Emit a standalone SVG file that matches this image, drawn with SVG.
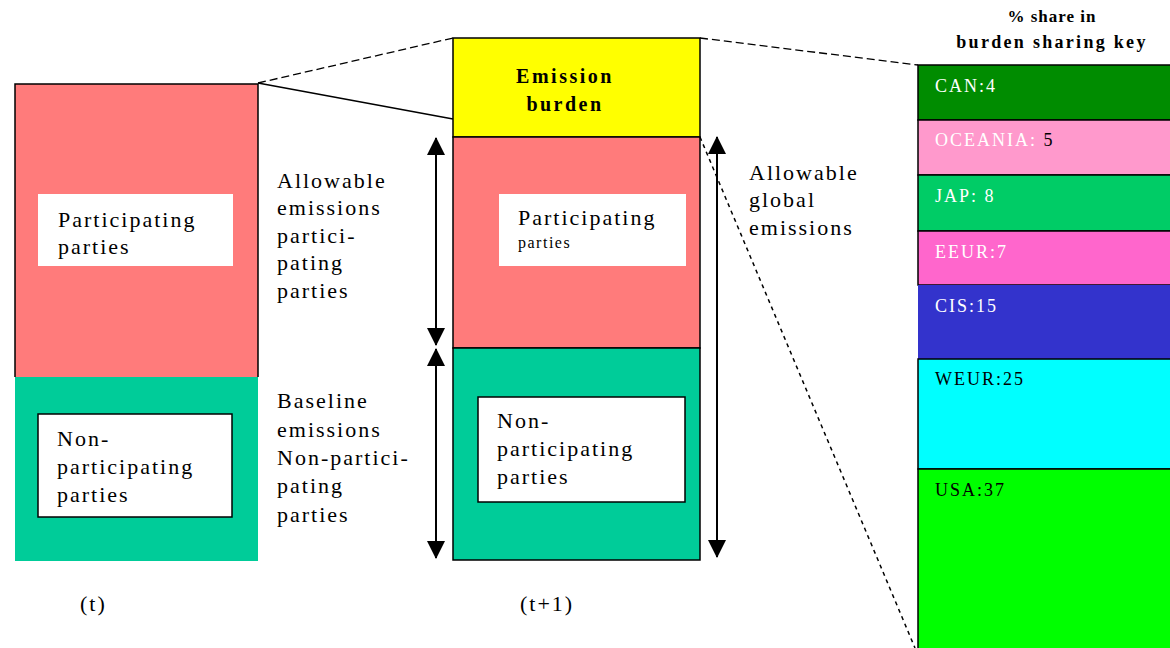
<svg xmlns="http://www.w3.org/2000/svg" width="1170" height="648" viewBox="0 0 1170 648">
<defs>
<style>
.t{font-family:"Liberation Serif","Times New Roman",serif;font-size:22px;letter-spacing:2px;fill:#000}
.s{font-family:"Liberation Serif","Times New Roman",serif;font-size:18px;letter-spacing:2px}
.b{font-family:"Liberation Serif","Times New Roman",serif;font-weight:bold;fill:#000}
.w{fill:#fff}
.k{fill:#000}
.ln{stroke:#000;stroke-width:1.5;fill:none}
.dash{stroke:#000;stroke-width:1.3;fill:none;stroke-dasharray:8 4}
.dot{stroke:#000;stroke-width:1.5;fill:none;stroke-dasharray:4 4}
.arr{stroke:#000;stroke-width:2;fill:none;marker-start:url(#ah);marker-end:url(#ah)}
</style>
<marker id="ah" viewBox="0 0 18 18" refX="17" refY="9" markerWidth="18" markerHeight="18" markerUnits="userSpaceOnUse" orient="auto-start-reverse">
<path d="M0,0 L18,9 L0,18 Z" fill="#000"/>
</marker>
</defs>
<rect width="1170" height="648" fill="#fff"/>

<g id="col-t">
<rect x="15" y="377" width="243" height="184" fill="#00CC99"/>
<rect x="15" y="84" width="243" height="293" fill="#FF7B7B"/>
<path class="ln" d="M15,377 V84 H258 V377"/>
<rect x="38" y="194" width="195" height="72" fill="#fff"/>
<text class="t" x="58" y="227">Participating</text>
<text class="t" x="58" y="254">parties</text>
<rect x="38" y="414" width="194" height="103" fill="#fff" stroke="#000" stroke-width="1.5"/>
<text class="t" x="57" y="446">Non-</text>
<text class="t" x="57" y="474">participating</text>
<text class="t" x="57" y="502">parties</text>
<text class="t" x="80" y="611">(t)</text>
</g>

<g id="labels-mid">
<text class="t" x="277" y="188">Allowable</text>
<text class="t" x="277" y="215">emissions</text>
<text class="t" x="277" y="243">partici-</text>
<text class="t" x="277" y="270">pating</text>
<text class="t" x="277" y="298">parties</text>
<text class="t" x="277" y="408">Baseline</text>
<text class="t" x="277" y="437">emissions</text>
<text class="t" x="277" y="465">Non-partici-</text>
<text class="t" x="277" y="493">pating</text>
<text class="t" x="277" y="522">parties</text>
</g>

<g id="col-t1">
<rect x="453" y="38" width="247" height="99" fill="#FFFF00" stroke="#000" stroke-width="1.5"/>
<text class="b" x="565" y="83" font-size="20" letter-spacing="2.5" text-anchor="middle">Emission</text>
<text class="b" x="565" y="111" font-size="20" letter-spacing="2.5" text-anchor="middle">burden</text>
<rect x="453" y="137" width="247" height="211" fill="#FF7B7B" stroke="#000" stroke-width="1.5"/>
<rect x="499" y="194" width="187" height="72" fill="#fff"/>
<text class="t" x="518" y="225">Participating</text>
<text class="t" x="518" y="248" style="font-size:16px;letter-spacing:1.5px">parties</text>
<rect x="453" y="348" width="247" height="212" fill="#00CC99" stroke="#000" stroke-width="1.5"/>
<rect x="478" y="397" width="207" height="105" fill="#fff" stroke="#000" stroke-width="1.5"/>
<text class="t" x="497" y="428">Non-</text>
<text class="t" x="497" y="456">participating</text>
<text class="t" x="497" y="484">parties</text>
<text class="t" x="520" y="611">(t+1)</text>
</g>

<g id="label-global">
<text class="t" x="749" y="180">Allowable</text>
<text class="t" x="749" y="207">global</text>
<text class="t" x="749" y="235">emissions</text>
</g>

<g id="key">
<text class="b" x="1052" y="22" font-size="17" letter-spacing="1" text-anchor="middle">% share in</text>
<text class="b" x="1052" y="48" font-size="18" letter-spacing="2.3" text-anchor="middle">burden sharing key</text>
<rect x="918" y="65" width="260" height="55" fill="#008C00" stroke="#000" stroke-width="1.5"/>
<rect x="918" y="120" width="260" height="55" fill="#FF99CC" stroke="#000" stroke-width="1.5"/>
<rect x="918" y="175" width="260" height="56" fill="#00CC66" stroke="#000" stroke-width="1.5"/>
<rect x="918" y="231" width="260" height="54" fill="#FF66CC" stroke="#000" stroke-width="1.5"/>
<rect x="918" y="285" width="260" height="74" fill="#3333CC"/>
<rect x="918" y="359" width="260" height="110" fill="#00FFFF" stroke="#000" stroke-width="1.5"/>
<rect x="918" y="469" width="260" height="190" fill="#00FF00" stroke="#000" stroke-width="1.5"/>
<text class="s w" x="935" y="92">CAN:4</text>
<text class="s w" x="935" y="146">OCEANIA:<tspan class="k"> 5</tspan></text>
<text class="s w" x="935" y="202">JAP: 8</text>
<text class="s w" x="935" y="258">EEUR:7</text>
<text class="s w" x="935" y="312">CIS:15</text>
<text class="s k" x="935" y="385">WEUR:25</text>
<text class="s k" x="935" y="496">USA:37</text>
</g>

<g id="connectors">
<line class="ln" x1="258" y1="83" x2="453" y2="119"/>
<line class="dash" x1="258" y1="83" x2="453" y2="38"/>
<line class="dash" x1="700" y1="38" x2="918" y2="65"/>
<line class="dot" x1="700" y1="137" x2="915" y2="648"/>
<line class="arr" x1="436" y1="138" x2="436" y2="345"/>
<line class="arr" x1="436" y1="349" x2="436" y2="558"/>
<line class="arr" x1="717" y1="137" x2="717" y2="557"/>
</g>
</svg>
